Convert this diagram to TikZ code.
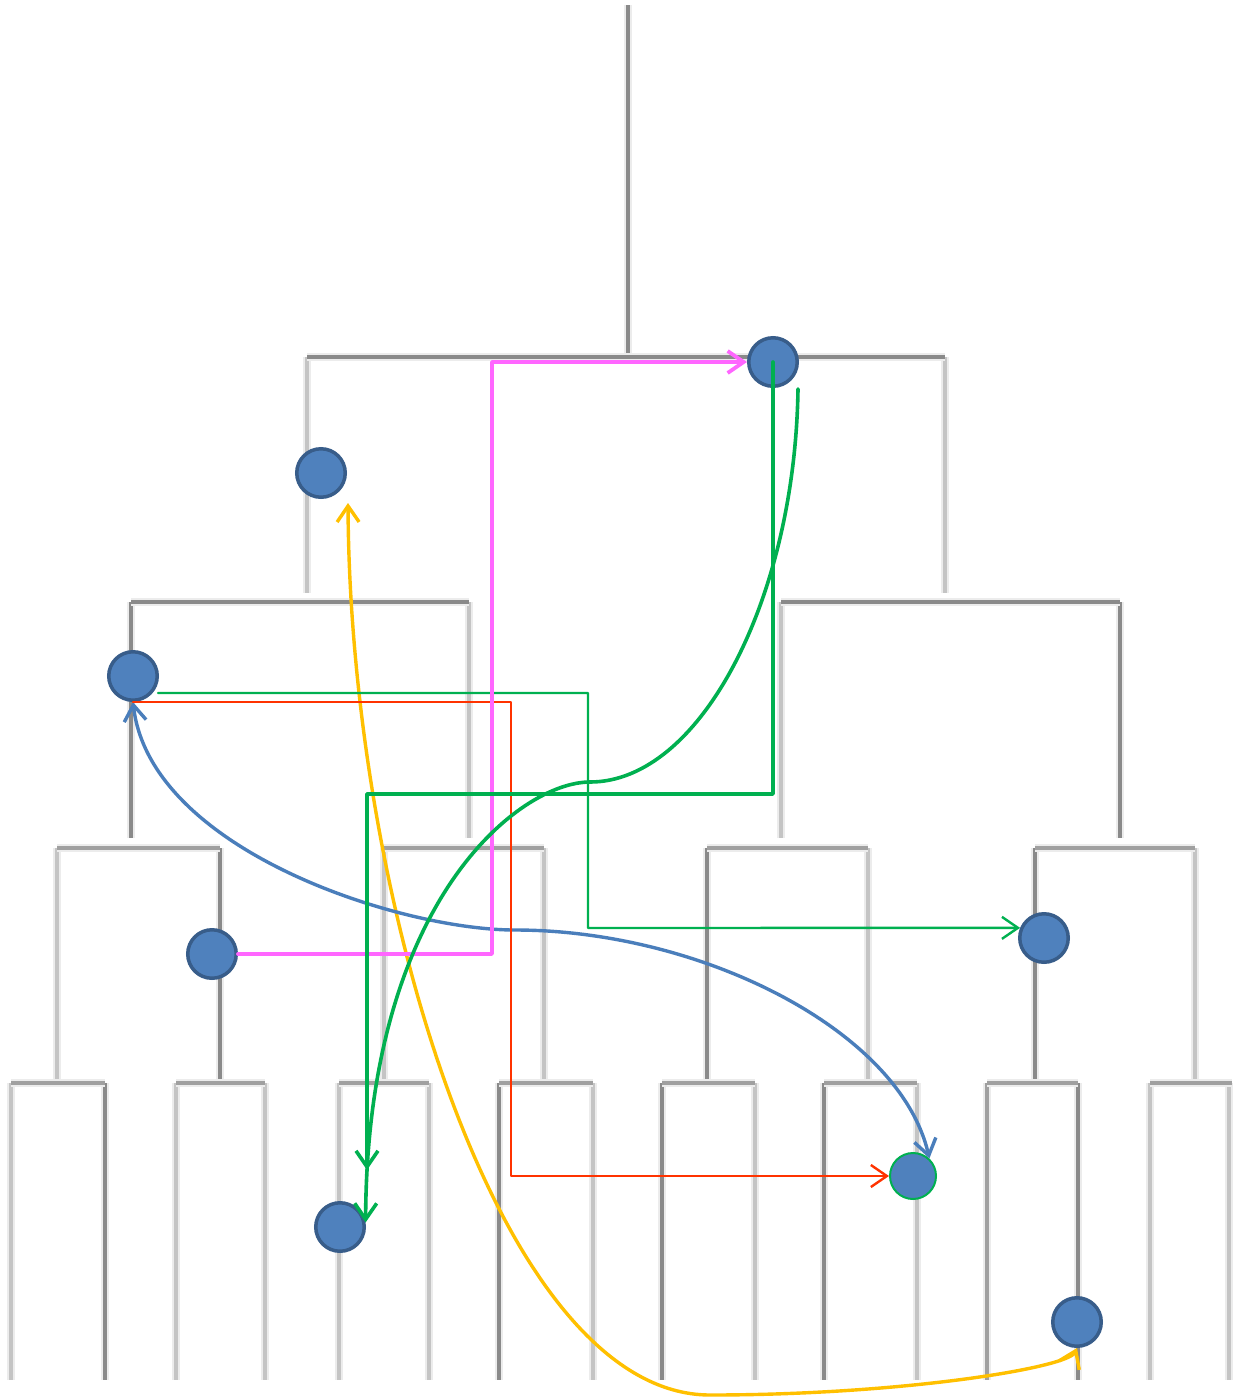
\documentclass[tikz,border=0pt]{standalone}
\usetikzlibrary{arrows.meta}
\definecolor{dkg}{RGB}{138,138,138}
\definecolor{mdg}{RGB}{160,160,160}
\definecolor{ltg}{RGB}{196,196,196}
\definecolor{halog}{RGB}{236,236,236}
\definecolor{nfill}{RGB}{79,129,189}
\definecolor{nline}{RGB}{56,93,138}
\definecolor{cmag}{RGB}{255,102,255}
\definecolor{cgrn}{RGB}{0,176,80}
\definecolor{cred}{RGB}{255,51,0}
\definecolor{cblu}{RGB}{74,126,187}
\definecolor{cylw}{RGB}{255,192,0}
\newcommand{\dseg}[2]{\draw[#1] #2;}
\begin{document}
\begin{tikzpicture}[x=1pt,y=-1pt,
  dk/.style={line width=4pt, draw=dkg, preaction={draw=halog, line width=8pt}},
  md/.style={line width=3.8pt, draw=mdg, preaction={draw=halog, line width=8pt}},
  lt/.style={line width=3.5pt, draw=ltg, preaction={draw=halog, line width=8pt}},
  blob/.style={circle, fill=nfill, draw=nline, line width=3.5pt, minimum size=48.5pt, inner sep=0pt},
  gblob/.style={circle, fill=nfill, draw=cgrn, line width=2pt, minimum size=46pt, inner sep=0pt},
  tip/.style={-{Straight Barb[length=16pt,width=22pt]}},
  tips/.style={{Straight Barb[length=16pt,width=22pt]}-{Straight Barb[length=16pt,width=22pt]}},
  conn/.style={line cap=round, line join=round},
  magc/.style={conn, draw=cmag, line width=3.8pt},
  grnc/.style={conn, draw=cgrn, line width=3.6pt},
  grnt/.style={conn, draw=cgrn, line width=2.4pt},
  redc/.style={conn, draw=cred, line width=2.4pt},
  bluc/.style={conn, draw=cblu, line width=3.4pt},
  ylwc/.style={conn, draw=cylw, line width=3.4pt}
]
\useasboundingbox[fill=white] (0,0) rectangle (1232,1398);
% ---------- dendrogram ----------
\dseg{dk}{(628,5) -- (628,357)}
\dseg{lt}{(307,357) -- (307,593)}
\dseg{lt}{(945,357) -- (945,593)}
\dseg{dk}{(307,357) -- (945,357)}
% level 2
\dseg{dk}{(131,602) -- (131,838)}
\dseg{lt}{(469,602) -- (469,838)}
\dseg{lt}{(781,602) -- (781,838)}
\dseg{dk}{(1120,602) -- (1120,838)}
\dseg{dk}{(131,602) -- (469,602)}
\dseg{dk}{(781,602) -- (1120,602)}
% level 3
\dseg{lt}{(57,848) -- (57,1083)}
\dseg{dk}{(220,848) -- (220,1083)}
\dseg{lt}{(384,848) -- (384,1083)}
\dseg{lt}{(544,848) -- (544,1083)}
\dseg{dk}{(707,848) -- (707,1083)}
\dseg{lt}{(868,848) -- (868,1083)}
\dseg{dk}{(1035,848) -- (1035,1083)}
\dseg{lt}{(1195,848) -- (1195,1083)}
\dseg{md}{(57,848) -- (220,848)}
\dseg{md}{(384,848) -- (544,848)}
\dseg{md}{(707,848) -- (868,848)}
\dseg{md}{(1035,848) -- (1195,848)}
% leaves
\dseg{lt}{(11,1083) -- (11,1380)}
\dseg{dk}{(105,1083) -- (105,1380)}
\dseg{lt}{(176,1083) -- (176,1380)}
\dseg{lt}{(265,1083) -- (265,1380)}
\dseg{lt}{(339,1083) -- (339,1380)}
\dseg{lt}{(429,1083) -- (429,1380)}
\dseg{dk}{(499,1083) -- (499,1380)}
\dseg{lt}{(593,1083) -- (593,1380)}
\dseg{dk}{(662,1083) -- (662,1380)}
\dseg{lt}{(755,1083) -- (755,1380)}
\dseg{dk}{(824,1083) -- (824,1380)}
\dseg{lt}{(917,1083) -- (917,1380)}
\dseg{md}{(987,1083) -- (987,1380)}
\dseg{dk}{(1078,1083) -- (1078,1380)}
\dseg{lt}{(1150,1083) -- (1150,1380)}
\dseg{lt}{(1229,1083) -- (1229,1380)}
\dseg{md}{(11,1083) -- (105,1083)}
\dseg{md}{(176,1083) -- (265,1083)}
\dseg{md}{(339,1083) -- (429,1083)}
\dseg{md}{(499,1083) -- (593,1083)}
\dseg{md}{(662,1083) -- (755,1083)}
\dseg{md}{(824,1083) -- (917,1083)}
\dseg{md}{(987,1083) -- (1078,1083)}
\dseg{md}{(1150,1083) -- (1232,1083)}
% ---------- nodes ----------
\node[blob] (n1) at (773,362) {};
\node[blob] (n2) at (321,473) {};
\node[blob] (n3) at (133,676) {};
\node[blob] (n4) at (212,954) {};
\node[blob] (n5) at (1044,938) {};
\node[gblob] (n6) at (913,1176) {};
\node[blob] (n7) at (340,1227) {};
\node[blob] (n8) at (1077,1322) {};
\coordinate (g1end) at (367,1170);
\coordinate (g2start) at (798,389);
\coordinate (g3start) at (158,693);
\coordinate (y1start) at (348,503);
% ---------- connectors ----------
\draw[ylwc, tips] (y1start) .. controls (350,900) and (500,1395) .. (710,1395)
  .. controls (900,1395) and (1068,1368) .. (n8.south);
\draw[bluc, tips] (n3.south) .. controls (150,850) and (400,930) .. (515,930)
  .. controls (700,930) and (900,1030) .. (n6.47);
\draw[redc, tip] (n3.south) -| (511,1176) -- (n6.west);
\draw[grnt, tip] (g3start) -| (588,928) -- (n5.157);
\draw[magc, tip] (n4.east) -| (492,362) -- (n1.west);
\draw[grnc, tip] (n1.center) |- (367,794) -- (g1end);
\draw[grnc, tip] (g2start) .. controls (795,600) and (700,782) .. (590,782)
  .. controls (520,782) and (367,900) .. (n7.10);
\end{tikzpicture}
\end{document}
